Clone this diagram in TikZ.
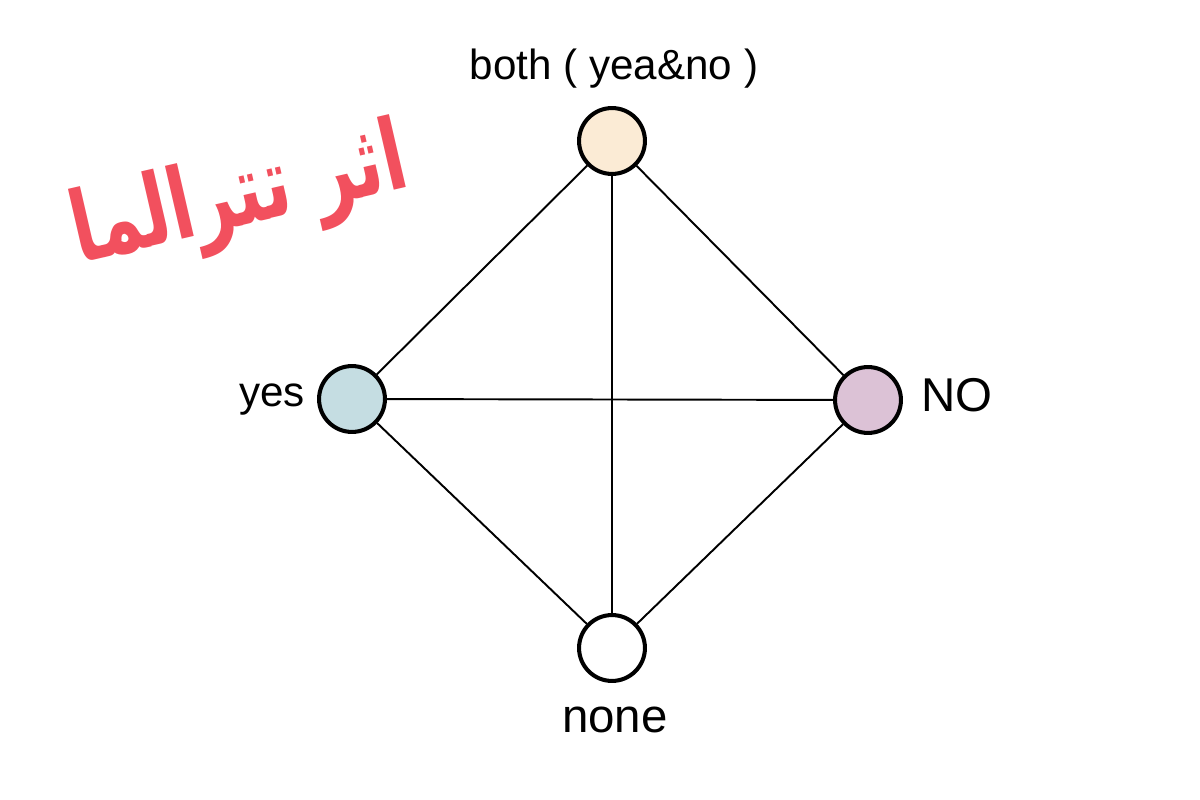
\documentclass[tikz,border=0pt]{standalone}
\usepackage{fontspec}
\setmainfont{Liberation Sans}
\newfontfamily\arabicfont[Script=Arabic]{DejaVu Sans}
\TeXXeTstate=1
\usetikzlibrary{backgrounds}
\definecolor{bothc}{HTML}{FBEBD5}
\definecolor{yesc}{HTML}{C5DDE2}
\definecolor{noc}{HTML}{DCC2D6}
\definecolor{redt}{HTML}{F2505E}
\tikzset{
  vert/.style={circle, draw=black, line width=2.3pt, minimum size=37.5pt, inner sep=0pt},
  edge/.style={line width=1.1pt, black},
  lbl/.style={font=\fontsize{24}{28}\selectfont, inner sep=0pt},
  lblbig/.style={font=\fontsize{27}{32}\selectfont, inner sep=0pt}
}
\begin{document}
\begin{tikzpicture}[x=0.02cm,y=-0.02cm]
\useasboundingbox (0,0) rectangle (1200,800);
\node[vert, fill=bothc] (both) at (612,141) {};
\node[vert, fill=yesc] (yes) at (352,399) {};
\node[vert, fill=noc] (no) at (868,400) {};
\node[vert, fill=white] (none) at (612,648) {};
\begin{scope}[on background layer]
\draw[edge] (both) -- (yes);
\draw[edge] (both) -- (no);
\draw[edge] (both) -- (none);
\draw[edge] (yes) -- (no);
\draw[edge] (yes) -- (none);
\draw[edge] (no) -- (none);
\end{scope}
\node[lbl, anchor=base] (tb) at (614,80) {both ( yea\&no )};
\node[lbl, anchor=base east] (ty) at (305,406) {yes};
\node[lblbig, anchor=base west] (tn) at (921,412) {NO};
\node[lblbig, anchor=base] (tnone) at (615,732) {none};
\node[text=redt, rotate=13, inner sep=0pt] (ar) at (240,200)
  {\scalebox{0.8}[1.12]{\arabicfont\bfseries\fontsize{50}{60}\selectfont\beginR اثر تترالما\endR}};
\end{tikzpicture}
\end{document}
